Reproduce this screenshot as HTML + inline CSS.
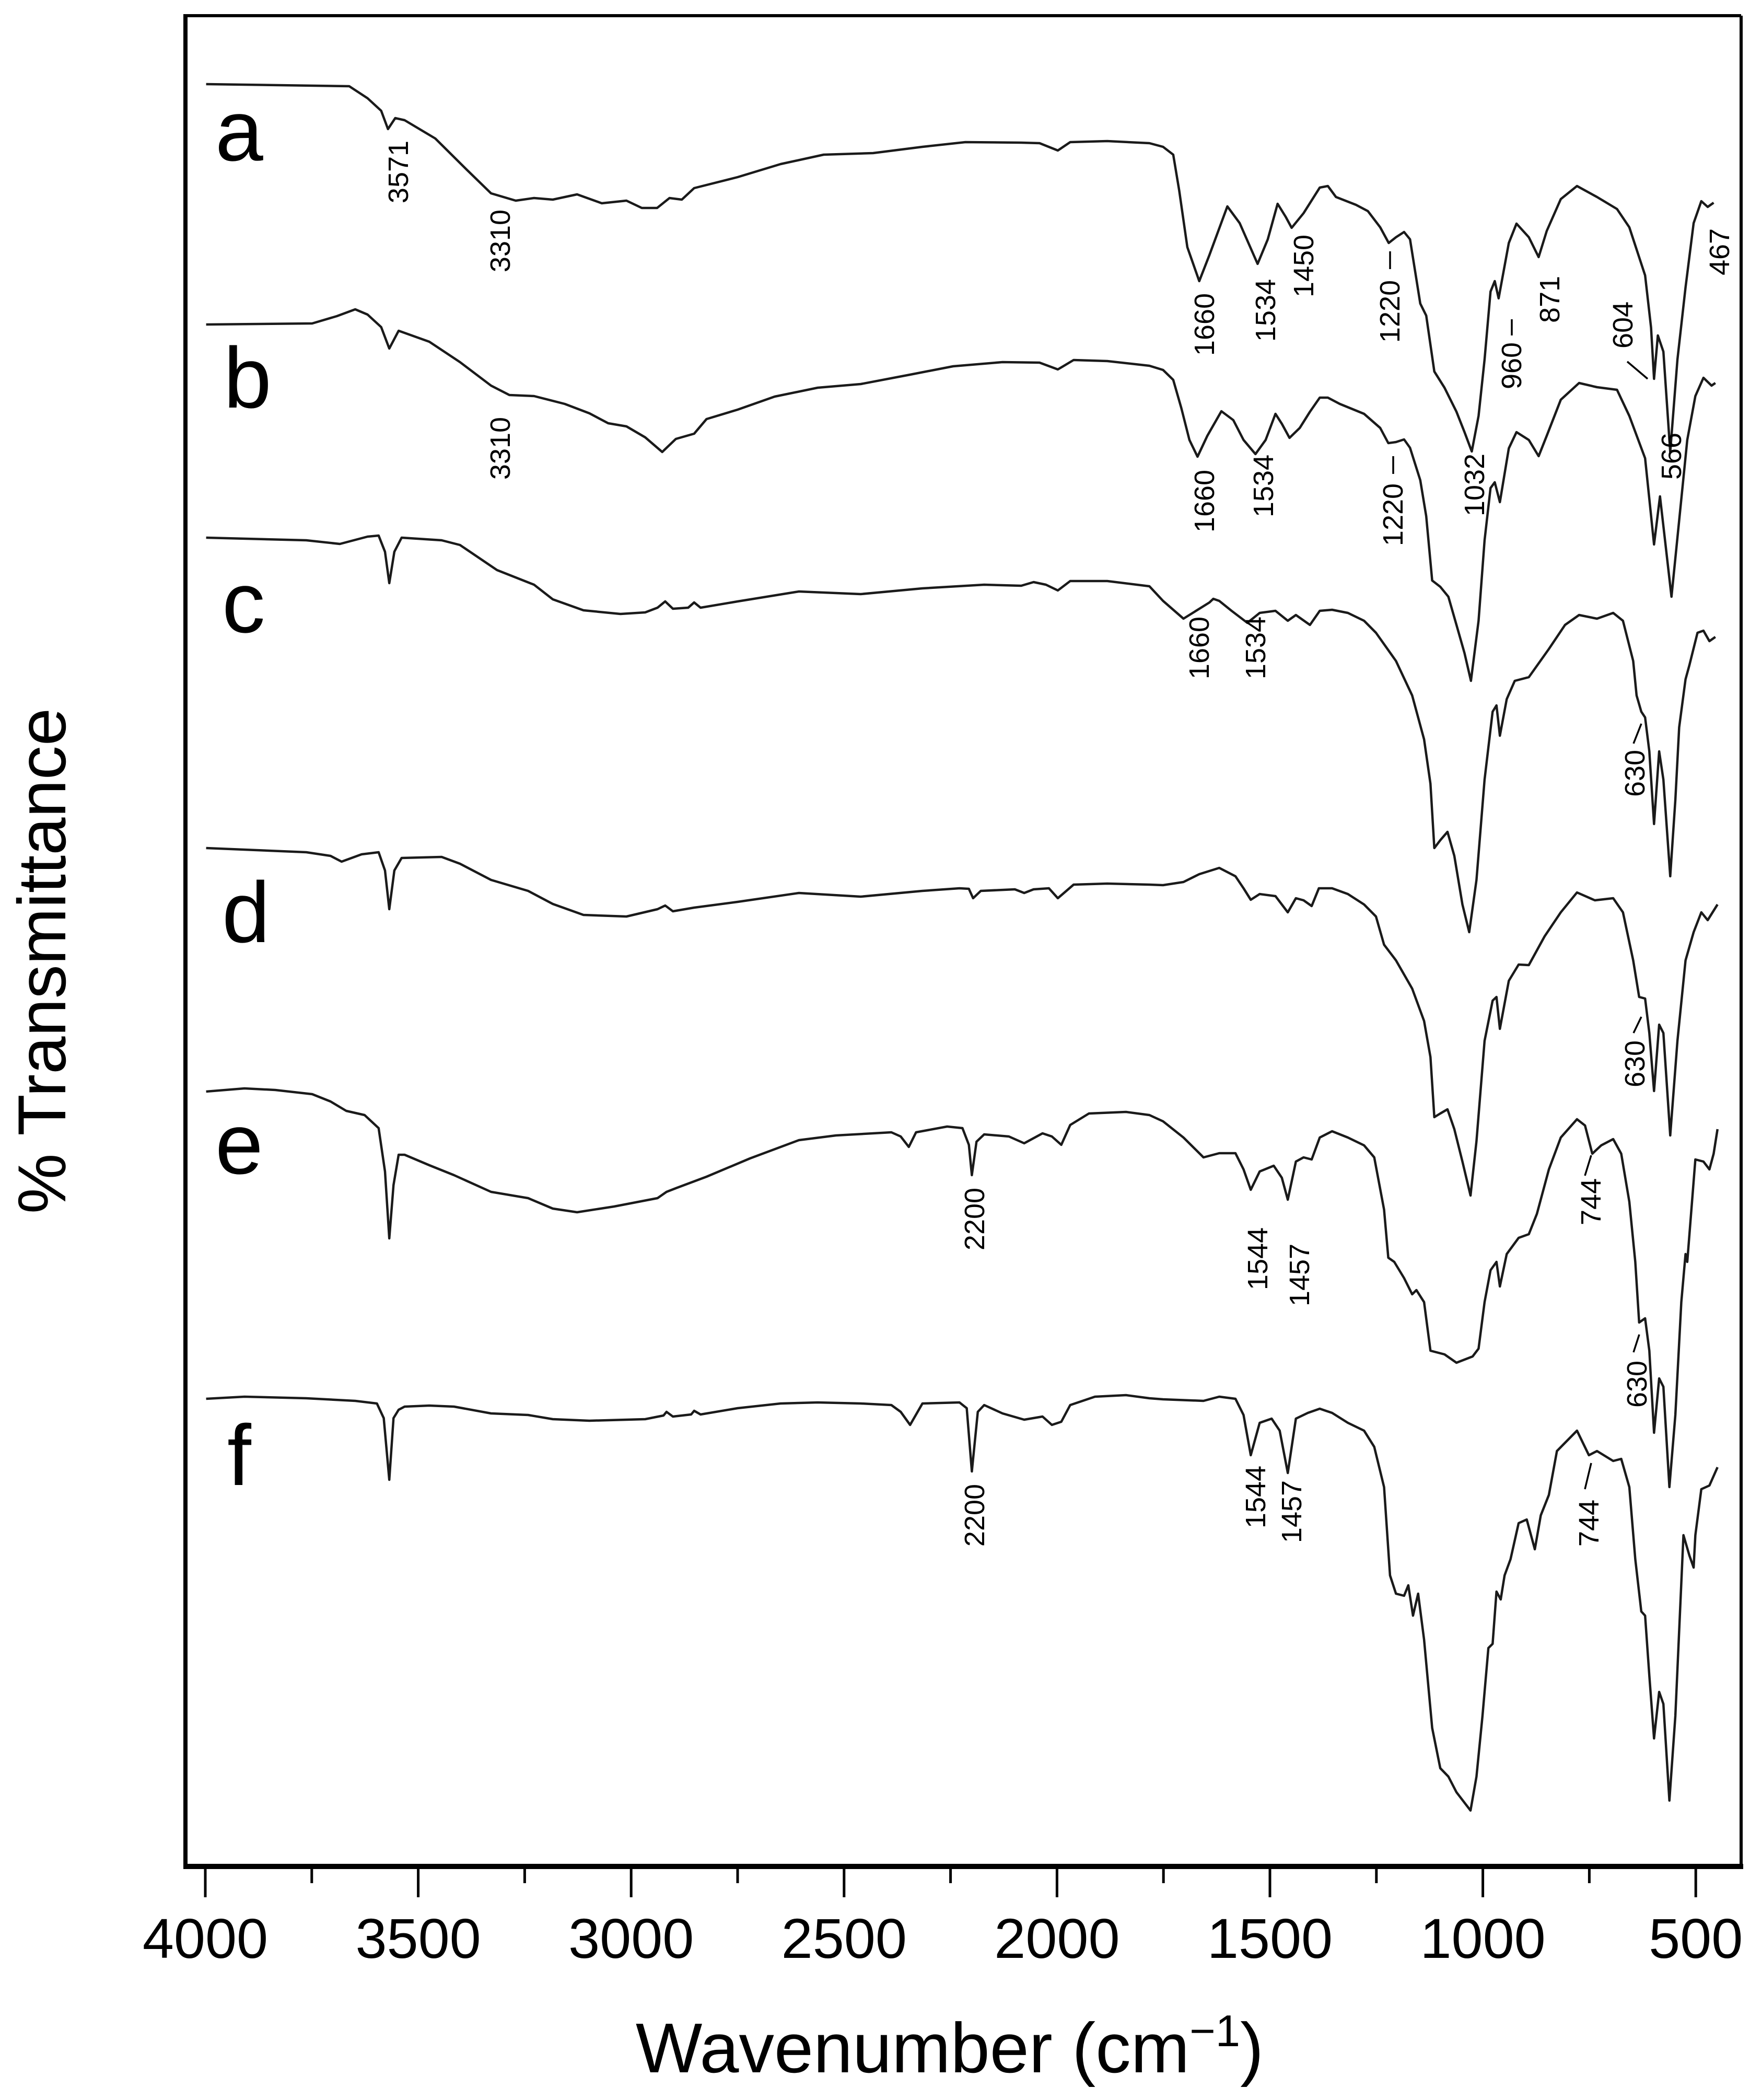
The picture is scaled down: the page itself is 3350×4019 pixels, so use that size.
<!DOCTYPE html>
<html>
<head>
<meta charset="utf-8">
<style>
  html,body{margin:0;padding:0;background:#fff;}
  svg{display:block;}
  text{font-family:"Liberation Sans",Arial,sans-serif;fill:#000;}
</style>
</head>
<body>
<svg id="chart" width="3350" height="4019" viewBox="0 0 3350 4019" xmlns="http://www.w3.org/2000/svg">
  <rect x="0" y="0" width="3350" height="4019" fill="#fff"/>
  <g id="series"></g>
  <g id="axes">
    <line x1="355" y1="30" x2="3333" y2="30" stroke="#000" stroke-width="6"/>
    <line x1="3333" y1="30" x2="3333" y2="3572" stroke="#000" stroke-width="6"/>
    <line x1="355" y1="27" x2="355" y2="3577" stroke="#000" stroke-width="8"/>
    <line x1="351" y1="3572" x2="3337" y2="3572" stroke="#000" stroke-width="10"/>
  </g>
  <g id="ticks"></g>
  <text x="1818" y="3966" font-size="135" text-anchor="middle">Wavenumber (cm<tspan dy="-50" font-size="85">−1</tspan><tspan dy="50">)</tspan></text>
  <text transform="translate(125,1839) rotate(-90)" font-size="130" text-anchor="middle">% Transmittance</text>

  <g font-size="165">
    <text x="412" y="307">a</text>
    <text x="428" y="780">b</text>
    <text x="425" y="1210">c</text>
    <text x="425" y="1803">d</text>
    <text x="412" y="2246">e</text>
    <text x="435" y="2842">f</text>
  </g>

  <g id="annots" font-size="54"></g>
  <g stroke="#000" stroke-width="3.5">
    <line x1="2661" y1="481" x2="2661" y2="515"/>
    <line x1="2894" y1="611" x2="2894" y2="642"/>
    <line x1="3115" y1="692" x2="3154" y2="725"/>
    <line x1="2667" y1="873" x2="2667" y2="907"/>
    <line x1="3127" y1="1423" x2="3142" y2="1385"/>
    <line x1="3127" y1="1977" x2="3142" y2="1946"/>
    <line x1="3127" y1="2588" x2="3138" y2="2554"/>
    <line x1="3034" y1="2250" x2="3046" y2="2211"/>
    <line x1="3034" y1="2850" x2="3046" y2="2800"/>
  </g>
</svg>
<script>
// ---- data (wavenumber cm-1, offset transmittance) ----
const xTickValues = [4000,3500,3000,2500,2000,1500,1000,500];
const xTickLabels = ["4000","3500","3000","2500","2000","1500","1000","500"];
const xMinorTicks = [3750,3250,2750,2250,1750,1250,750];

const wnA = [3998,3662,3619,3587,3571,3554,3532,3460,3387,3329,3271,3228,3184,3127,3069,3011,2975,2939,2910,2881,2852,2750,2649,2548,2432,2316,2215,2084,2041,1998,1969,1882,1783,1751,1727,1713,1694,1666,1642,1600,1571,1529,1505,1482,1463,1449,1421,1383,1364,1345,1298,1270,1241,1221,1204,1185,1171,1147,1133,1114,1090,1062,1043,1026,1010,996,982,972,963,939,921,892,869,850,817,779,732,685,656,619,605,598,589,576,560,543,524,505,487,472,458];
const tA = [341.1,340.7,338.4,336.0,332.5,334.6,334.2,330.7,324.8,320.2,318.8,319.3,319.0,320.0,318.3,318.8,317.4,317.4,319.3,319.0,321.2,323.3,325.8,327.6,327.9,329.1,330.0,329.9,329.8,328.4,330.0,330.2,329.8,329.1,327.6,320.7,309.9,303.4,308.4,317.7,314.5,306.7,311.4,318.2,315.7,313.6,316.4,321.3,321.6,319.5,318.0,316.8,313.7,310.7,311.8,312.8,311.4,299.1,296.8,286.1,283.0,278.4,274.5,270.8,277.6,288.4,301.4,303.4,300.1,310.7,314.4,311.8,308.0,313.0,319.1,321.6,319.5,317.2,313.7,304.5,294.5,284.7,293.0,289.9,270.7,288.4,302.2,314.5,318.7,317.6,318.4];

const wnB = [3998,3749,3691,3648,3619,3587,3568,3546,3474,3402,3329,3286,3228,3156,3098,3054,3011,2967,2927,2895,2852,2823,2750,2663,2562,2461,2345,2244,2128,2041,1998,1961,1882,1783,1751,1727,1708,1689,1670,1647,1614,1586,1562,1534,1510,1487,1472,1454,1430,1406,1383,1364,1336,1279,1241,1222,1204,1185,1171,1147,1133,1119,1100,1081,1062,1043,1028,1010,996,982,972,960,939,921,892,869,850,817,774,732,685,656,619,598,584,557,539,520,501,482,463,454];
const tB = [295.1,295.3,296.7,298.0,297.0,294.6,290.5,293.9,291.8,287.9,283.4,281.6,281.4,279.9,278.1,276.2,275.6,273.5,270.7,273.2,274.2,277.0,278.8,281.3,283.0,283.7,285.5,287.1,287.9,287.8,286.5,288.3,288.1,287.2,286.4,284.5,279.1,273.0,269.8,273.8,278.5,276.8,273.0,270.3,273.0,278.0,276.1,273.4,275.3,278.4,281.1,281.1,279.9,278.0,275.3,272.4,272.6,273.1,271.5,265.3,258.4,246.1,244.9,243.0,237.6,232.2,226.9,238.4,253.8,263.8,264.9,261.1,271.4,274.5,273.0,269.9,273.8,280.7,283.9,283.1,282.6,277.6,269.5,253.0,262.2,243.0,257.6,273.0,281.4,284.9,283.4,283.9];

const wnC = [3998,3763,3684,3619,3593,3578,3568,3556,3539,3445,3402,3315,3228,3184,3112,3025,2967,2938,2920,2902,2866,2852,2837,2750,2606,2461,2316,2171,2084,2055,2026,1998,1969,1882,1783,1751,1703,1642,1633,1619,1590,1553,1524,1487,1458,1439,1406,1383,1354,1317,1279,1251,1204,1166,1138,1123,1114,1100,1083,1067,1048,1032,1015,996,977,968,960,944,925,892,845,807,774,732,694,671,647,639,628,619,609,598,586,576,560,548,539,524,515,496,482,468,454];
const tC = [254.3,253.8,253.1,254.5,254.7,251.6,245.6,251.6,254.3,253.8,252.9,248.1,245.3,242.5,240.4,239.7,240.0,240.9,242.1,240.7,240.9,241.9,240.9,242.1,244.0,243.5,244.6,245.3,245.1,245.8,245.3,244.2,246.0,246.0,245.0,242.2,238.8,241.9,242.6,242.2,240.3,238.0,239.9,240.3,238.4,239.5,237.6,240.3,240.5,239.9,238.4,236.1,230.7,224.1,215.7,207.2,194.9,196.4,198.0,193.4,184.1,178.8,188.8,208.0,221.0,222.2,216.4,223.4,226.9,227.6,233.0,237.6,239.5,238.8,239.9,238.4,230.7,224.1,221.0,219.9,213.4,199.5,213.4,208.0,189.5,204.1,218.0,227.2,229.9,236.1,236.5,234.5,235.3];

const wnD = [3998,3763,3706,3680,3633,3593,3578,3568,3556,3539,3445,3402,3329,3242,3184,3112,3011,2938,2920,2902,2852,2750,2606,2461,2316,2229,2207,2197,2179,2099,2077,2055,2019,1998,1961,1882,1783,1751,1703,1666,1619,1581,1562,1545,1524,1487,1458,1439,1421,1402,1385,1354,1317,1279,1251,1232,1204,1166,1138,1123,1114,1100,1083,1067,1048,1029,1015,996,977,968,960,939,916,892,855,817,779,737,694,671,647,633,619,609,598,586,576,560,543,524,505,487,472,449];
const tD = [194.9,194.1,193.4,192.3,193.7,194.1,190.6,183.2,190.6,193.0,193.2,191.9,188.8,186.7,184.2,182.1,181.8,183.2,183.9,182.8,183.5,184.6,186.3,185.6,186.7,187.2,187.1,185.3,186.7,187.0,186.3,187.0,187.2,185.3,187.9,188.1,187.9,187.8,188.4,189.9,191.1,189.5,187.2,185.0,186.1,185.7,182.6,185.3,184.9,183.8,187.2,187.2,186.1,184.1,181.8,176.4,173.4,168.0,161.8,154.9,143.4,144.1,144.9,141.1,134.9,128.4,138.8,158.0,165.7,166.4,160.3,169.5,172.6,172.5,178.0,182.6,186.4,184.9,185.3,182.6,173.4,166.4,166.1,159.5,148.4,161.1,159.5,139.9,158.0,173.4,178.8,182.6,181.1,184.1];

const wnE = [3998,3908,3836,3749,3706,3669,3626,3593,3578,3568,3558,3546,3532,3474,3416,3329,3242,3184,3127,3040,2938,2917,2895,2823,2721,2606,2519,2389,2367,2348,2331,2258,2222,2207,2200,2189,2171,2113,2077,2034,2012,1990,1969,1925,1838,1783,1751,1703,1656,1619,1581,1562,1545,1524,1491,1472,1458,1439,1421,1402,1383,1354,1317,1279,1255,1232,1222,1208,1185,1166,1156,1138,1123,1090,1062,1024,1010,996,982,968,960,944,916,892,873,845,817,779,760,743,722,694,675,656,642,633,619,609,598,586,576,562,548,534,524,520,501,482,468,458,449];
const tE = [148.3,148.9,148.6,147.8,146.4,144.6,143.8,141.3,133.0,120.2,130.4,136.2,136.2,134.2,132.3,129.1,127.9,125.9,125.2,126.3,127.9,129.1,129.8,132.0,135.5,139.0,139.9,140.5,139.7,137.7,140.5,141.6,141.3,138.1,132.3,138.7,140.1,139.7,138.4,140.3,139.7,138.1,141.9,144.1,144.4,143.8,142.6,139.5,135.7,136.5,136.5,133.4,129.5,133.0,134.1,131.8,127.6,134.9,135.7,135.3,139.5,140.7,139.5,138.0,135.7,125.7,116.5,115.7,112.6,109.5,110.3,108.0,98.7,98.0,96.4,97.6,99.1,108.0,114.1,115.7,111.0,117.2,120.3,121.0,124.9,133.4,139.5,143.0,141.8,136.4,138.0,139.2,136.4,127.2,115.7,104.1,104.9,98.7,83.0,93.4,91.8,72.6,86.4,108.0,117.2,115.7,135.3,134.9,133.4,136.4,141.1];

const wnF = [3998,3908,3763,3648,3597,3581,3568,3558,3546,3532,3474,3416,3329,3242,3184,3098,2967,2924,2917,2902,2859,2852,2837,2750,2649,2562,2461,2389,2367,2345,2316,2229,2212,2200,2186,2171,2128,2077,2034,2012,1990,1969,1911,1838,1783,1751,1656,1619,1581,1562,1545,1524,1496,1477,1458,1439,1411,1383,1354,1317,1279,1255,1232,1218,1204,1185,1175,1164,1152,1138,1119,1100,1081,1062,1029,1015,1001,987,977,968,958,949,935,916,897,878,864,845,826,779,751,732,694,675,656,642,628,619,609,598,586,576,562,548,529,515,505,501,487,468,449];
const tF = [89.5,89.9,89.6,89.1,88.6,85.8,74.0,85.8,87.4,88.0,88.2,88.0,86.7,86.4,85.6,85.3,85.6,86.3,87.0,86.1,86.5,87.2,86.5,87.7,88.6,88.8,88.6,88.3,87.0,84.5,88.6,88.8,87.7,75.6,87.0,88.3,86.7,85.5,86.1,84.5,85.1,88.3,89.9,90.2,89.6,89.4,89.1,89.9,89.5,86.4,78.7,84.9,85.7,83.4,75.3,85.7,86.8,87.6,86.8,84.9,83.4,80.3,72.6,55.7,52.2,51.8,53.8,48.0,52.2,43.4,26.5,18.8,17.2,14.2,10.7,17.2,28.7,41.8,42.6,52.6,51.1,55.7,58.8,65.7,66.4,60.7,67.2,71.1,79.5,83.4,78.7,79.5,77.6,78.0,72.6,58.8,48.8,48.0,36.5,24.5,33.4,31.1,12.6,28.8,63.4,59.5,57.2,63.4,72.2,72.9,76.4];

const seriesNames = ["a","b","c","d","e","f"];
const seriesWn = [wnA,wnB,wnC,wnD,wnE,wnF];
const seriesT = [tA,tB,tC,tD,tE,tF];

const annotTexts = ["3571","3310","1660","1534","1450","1220","960","871","604","467","3310","1660","1534","1220","1032","566","1660","1534","630","630","2200","1544","1457","744","630","2200","1544","1457","744"];
// ---- end data ----

const NS = "http://www.w3.org/2000/svg";
// axis functions
const X0 = 393, XPER = 0.8152;           // px at 4000, px per cm-1
function xScale(wn){ return X0 + (4000 - wn) * XPER; }
const YBOT = 3572, YTOP = 30, TMAX = 354.2;
function yScale(t){ return YBOT - (t / TMAX) * (YBOT - YTOP); }

// ticks
const ticks = document.getElementById('ticks');
xTickValues.forEach((v,i)=>{
  const l = document.createElementNS(NS,'line');
  l.setAttribute('x1',xScale(v)); l.setAttribute('x2',xScale(v));
  l.setAttribute('y1',3572); l.setAttribute('y2',3631);
  l.setAttribute('stroke','#000'); l.setAttribute('stroke-width','5');
  
  
  ticks.appendChild(l);
  const t = document.createElementNS(NS,'text');
  t.setAttribute('x',xScale(v)); t.setAttribute('y',3747);
  t.setAttribute('text-anchor','middle'); t.setAttribute('font-size','108');
  t.textContent = xTickLabels[i];
  
  
  ticks.appendChild(t);
});
xMinorTicks.forEach(v=>{
  const l = document.createElementNS(NS,'line');
  l.setAttribute('x1',xScale(v)); l.setAttribute('x2',xScale(v));
  l.setAttribute('y1',3572); l.setAttribute('y2',3604);
  l.setAttribute('stroke','#000'); l.setAttribute('stroke-width','5');
  
  
  ticks.appendChild(l);
});

// spectra
const g = document.getElementById('series');
seriesWn.forEach((wns,si)=>{
  const ts = seriesT[si];
  const pts = wns.map((w,i)=> xScale(w).toFixed(1)+','+yScale(ts[i]).toFixed(1)).join(' ');
  const pl = document.createElementNS(NS,'polyline');
  pl.setAttribute('points',pts);
  pl.setAttribute('fill','none');
  pl.setAttribute('stroke','#1a1a1a');
  pl.setAttribute('stroke-width','4.5');
  pl.setAttribute('stroke-linejoin','round');
  
  
  g.appendChild(pl);
});

// peak annotations (rotated labels), positions in px
const annotPos = [[763,329],[958,461],[2306,621],[2423,594],[2496,509],[2661,596],[2894,700],[2967,573],[3107,622],[3292,482],
  [958,858],[2306,959],[2419,930],[2667,985],[2823,928],[3200,873],
  [2296,1240],[2404,1240],[3130,1480],[3130,2036],
  [1866,2333],[2408,2409],[2488,2440],[3046,2300],[3134,2649],
  [1866,2900],[2404,2865],[2473,2893],[3042,2915]];
const ag = document.getElementById('annots');
annotTexts.forEach((txt,i)=>{
  const p = annotPos[i];
  const t = document.createElementNS(NS,'text');
  t.setAttribute('transform','translate('+p[0]+','+p[1]+') rotate(-90)');
  t.setAttribute('text-anchor','middle');
  t.setAttribute('dominant-baseline','central');
  t.textContent = txt;
  
  
  ag.appendChild(t);
});
</script>
</body>
</html>
